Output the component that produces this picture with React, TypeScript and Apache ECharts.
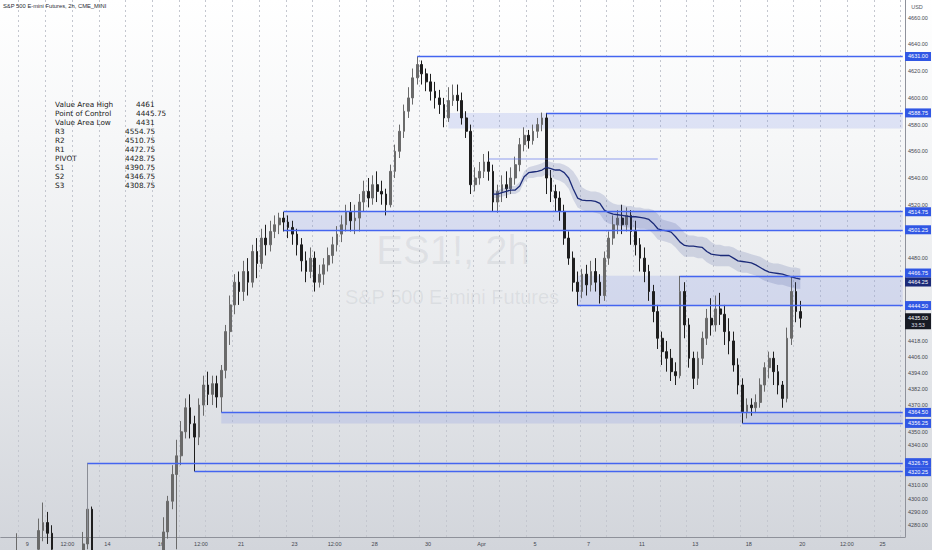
import React, { useEffect, useRef } from "react";
import * as echarts from "echarts";

// ---------- data ----------
const SLOT_COUNT = 203; // 6 slots per trading day, incl. future space

const xTickLabels: [number, string][] = [
  [6, "9"], [15, "12:00"], [24, "14"], [36, "16"], [45, "12:00"], [54, "21"],
  [66, "23"], [75, "12:00"], [84, "28"], [96, "30"], [108, "Apr"], [120, "5"],
  [132, "7"], [144, "11"], [156, "13"], [168, "18"], [180, "20"], [190, "12:00"], [198, "25"],
];

// [open, close, low, high]
const candles: number[][] = [
  [4190, 4200, 4180, 4215], [4200, 4185, 4175, 4210], [4185, 4230, 4180, 4245], [4230, 4255, 4225, 4274], [4255, 4210, 4200, 4262], [4210, 4180, 4170, 4220],
  [4180, 4215, 4175, 4225], [4215, 4262, 4210, 4268], [4262, 4276, 4255, 4285], [4276, 4282, 4268, 4297], [4282, 4274, 4266, 4290], [4274, 4262, 4255, 4280],
  [4262, 4235, 4225, 4266], [4235, 4205, 4195, 4240], [4205, 4222, 4198, 4230], [4222, 4248, 4215, 4258], [4248, 4238, 4230, 4262], [4238, 4255, 4232, 4264],
  [4255, 4266, 4248, 4275], [4266, 4292, 4262, 4296], [4292, 4228, 4220, 4294], [4228, 4205, 4196, 4235], [4205, 4182, 4175, 4212], [4182, 4195, 4178, 4202],
  [4195, 4222, 4190, 4230], [4222, 4200, 4192, 4232], [4200, 4172, 4165, 4208], [4172, 4150, 4140, 4180], [4150, 4162, 4138, 4170], [4162, 4180, 4155, 4188],
  [4180, 4195, 4172, 4205], [4195, 4212, 4188, 4220], [4212, 4230, 4205, 4238], [4230, 4245, 4222, 4252], [4245, 4252, 4238, 4262], [4252, 4258, 4245, 4266],
  [4258, 4275, 4250, 4286], [4275, 4298, 4270, 4302], [4298, 4318, 4292, 4325], [4318, 4332, 4262, 4344], [4332, 4350, 4325, 4358], [4350, 4368, 4345, 4375],
  [4368, 4356, 4345, 4378], [4356, 4346, 4320.25, 4362], [4346, 4370, 4340, 4375], [4370, 4385, 4362, 4392], [4385, 4378, 4370, 4395], [4378, 4386, 4370, 4392],
  [4386, 4376, 4368, 4392], [4376, 4396, 4364.5, 4400], [4396, 4425, 4390, 4430], [4425, 4445, 4415, 4452], [4445, 4462, 4438, 4468], [4462, 4455, 4445, 4470],
  [4455, 4470, 4448, 4478], [4470, 4462, 4452, 4480], [4462, 4485, 4458, 4490], [4485, 4476, 4465, 4495], [4476, 4495, 4472, 4502], [4495, 4490, 4482, 4505],
  [4490, 4500, 4485, 4508], [4500, 4505, 4495, 4512], [4505, 4510, 4498, 4514], [4510, 4507, 4500, 4514.75], [4507, 4503, 4495, 4512], [4503, 4498, 4490, 4508],
  [4498, 4490, 4482, 4502], [4490, 4478, 4470, 4495], [4478, 4470, 4462, 4485], [4470, 4480, 4465, 4488], [4480, 4462, 4455, 4485], [4462, 4468, 4458, 4475],
  [4468, 4475, 4460, 4480], [4475, 4482, 4470, 4488], [4482, 4490, 4476, 4496], [4490, 4498, 4485, 4504], [4498, 4505, 4492, 4512], [4505, 4515, 4500, 4520],
  [4515, 4508, 4500, 4522], [4508, 4510, 4498, 4520], [4510, 4522, 4500, 4528], [4522, 4530, 4515, 4538], [4530, 4525, 4518, 4540], [4525, 4535, 4520, 4542],
  [4535, 4530, 4522, 4545], [4530, 4528, 4520, 4538], [4528, 4520, 4512, 4532], [4520, 4545, 4518, 4550], [4545, 4560, 4540, 4565], [4560, 4575, 4555, 4580],
  [4575, 4590, 4570, 4595], [4590, 4600, 4585, 4608], [4600, 4615, 4595, 4622], [4615, 4625, 4610, 4631], [4625, 4618, 4610, 4628], [4618, 4612, 4605, 4622],
  [4612, 4605, 4598, 4618], [4605, 4600, 4592, 4612], [4600, 4595, 4588, 4606], [4595, 4585, 4578, 4600], [4585, 4598, 4582, 4608], [4598, 4602, 4594, 4610],
  [4602, 4598, 4590, 4610], [4598, 4585, 4580, 4604], [4585, 4575, 4570, 4590], [4575, 4535, 4528, 4580], [4535, 4540, 4530, 4548], [4540, 4545, 4535, 4552],
  [4545, 4552, 4540, 4558], [4552, 4545, 4538, 4560], [4545, 4522, 4515, 4550], [4522, 4530, 4514, 4535], [4530, 4535, 4522, 4542], [4535, 4532, 4525, 4545],
  [4532, 4540, 4528, 4548], [4540, 4550, 4535, 4556], [4550, 4565, 4545, 4570], [4565, 4572, 4560, 4578], [4572, 4568, 4562, 4576], [4568, 4575, 4565, 4580],
  [4575, 4580, 4570, 4585], [4580, 4585, 4575, 4589], [4585, 4540, 4528, 4588.75], [4540, 4530, 4522, 4546], [4530, 4525, 4515, 4535], [4525, 4515, 4508, 4530],
  [4515, 4495, 4490, 4520], [4495, 4480, 4475, 4500], [4480, 4462, 4455, 4485], [4462, 4455, 4444.5, 4470], [4455, 4468, 4450, 4472], [4468, 4460, 4452, 4475],
  [4460, 4470, 4455, 4478], [4470, 4462, 4455, 4480], [4462, 4452, 4446, 4468], [4452, 4480, 4448, 4485], [4480, 4495, 4475, 4500], [4495, 4505, 4490, 4512],
  [4505, 4510, 4498, 4516], [4510, 4505, 4498, 4520], [4505, 4512, 4500, 4518], [4512, 4500, 4490, 4516], [4500, 4490, 4482, 4508], [4490, 4480, 4470, 4495],
  [4480, 4470, 4462, 4488], [4470, 4455, 4448, 4475], [4455, 4440, 4432, 4460], [4440, 4420, 4412, 4445], [4420, 4410, 4400, 4425], [4410, 4405, 4395, 4418],
  [4405, 4395, 4388, 4412], [4395, 4392, 4385, 4402], [4392, 4455, 4390, 4466.75], [4455, 4430, 4420, 4462], [4430, 4405, 4398, 4435], [4405, 4390, 4382, 4410],
  [4390, 4405, 4385, 4410], [4405, 4420, 4400, 4425], [4420, 4435, 4415, 4442], [4435, 4430, 4422, 4450], [4430, 4442, 4425, 4452], [4442, 4438, 4430, 4454],
  [4438, 4425, 4415, 4445], [4425, 4418, 4408, 4435], [4418, 4400, 4395, 4425], [4400, 4385, 4378, 4405], [4385, 4365, 4356.25, 4390], [4365, 4370, 4360, 4375],
  [4370, 4368, 4362, 4375], [4368, 4372, 4364, 4378], [4372, 4385, 4368, 4390], [4385, 4398, 4380, 4402], [4398, 4405, 4390, 4410], [4405, 4395, 4385, 4410],
  [4395, 4385, 4378, 4400], [4385, 4375, 4368, 4388], [4375, 4420, 4372, 4428], [4420, 4455, 4415, 4466], [4455, 4440, 4432, 4462], [4440, 4435, 4428, 4448],
];

const maStart = 110;
const maLine = [
  4528, 4528, 4529, 4530, 4531, 4531, 4534, 4541, 4544, 4544.5,
  4545, 4546, 4548, 4547, 4546, 4546, 4544, 4540, 4532, 4525,
  4523.5, 4523, 4523, 4522.5, 4521, 4516, 4514, 4513, 4512.5, 4512,
  4511.5, 4511, 4511, 4510.5, 4510, 4509, 4506, 4502, 4501, 4500.5,
  4499.5, 4496, 4492, 4489.5, 4489, 4489, 4488.5, 4488, 4485, 4483,
  4482.5, 4482, 4482, 4482, 4480, 4478, 4477.5, 4477, 4476.5, 4475,
  4473, 4471, 4469.5, 4469, 4468.5, 4468, 4467, 4466, 4465, 4464.25,
];
const maUpper = [
  4531, 4531, 4532, 4533, 4534, 4534, 4537,
  4545, 4548, 4549, 4550, 4551, 4553, 4552, 4551, 4551,
  4550, 4548, 4545, 4540, 4533, 4531, 4530, 4530, 4529, 4527,
  4523, 4521, 4520, 4520, 4519, 4519, 4518, 4518, 4517, 4517,
  4516, 4513, 4509, 4508, 4507, 4506, 4503, 4499, 4497, 4497,
  4496, 4496, 4495, 4492, 4490, 4490, 4489, 4489, 4488, 4486,
  4485, 4484, 4483, 4482, 4481, 4479, 4477, 4476, 4476, 4475,
  4474, 4473, 4473, 4472,
];
const maLower = [
  4525, 4525, 4526, 4527, 4528, 4528, 4530,
  4537, 4540, 4540, 4541, 4541, 4543, 4541, 4539, 4538,
  4536, 4532, 4524, 4518, 4516, 4515, 4515, 4514, 4513, 4508,
  4506, 4505, 4504, 4504, 4503, 4503, 4503, 4502, 4502, 4501,
  4498, 4494, 4493, 4492, 4491, 4488, 4484, 4481, 4481, 4481,
  4480, 4480, 4477, 4475, 4474, 4474, 4474, 4474, 4472, 4470,
  4469, 4469, 4468, 4467, 4465, 4463, 4462, 4461, 4460, 4460,
  4459, 4458, 4457, 4457,
];

const yTickValues = [4660, 4640, 4620, 4600, 4580, 4560, 4540, 4520, 4480, 4418, 4406, 4394, 4382, 4370, 4350, 4340, 4310, 4300, 4290, 4280];

// [price, start slot]
const levelLines: [number, number][] = [
  [4631, 93], [4588.75, 122], [4514.75, 63], [4501.25, 63], [4466.75, 152],
  [4444.5, 129], [4364.5, 49], [4356.25, 166], [4326.75, 19], [4320.25, 43],
];
// [start slot, top price, bottom price]
const levelBands: [number, number, number][] = [
  [100, 4588.75, 4577], [63, 4514.75, 4501.25], [129, 4466.75, 4444.5], [49, 4364.5, 4356.25],
];
const r3Segment: [number, number, number] = [4554.75, 109, 147];
const dropLine: [number, number] = [19, 4326.75];

const levelTags = [4631, 4588.75, 4514.75, 4501.25, 4466.75, 4444.5, 4364.5, 4356.25, 4326.75, 4320.25];
const maLastTag = 4464.25;
const lastPrice = 4435;
const countdown = "33:53";

const tableLabels = ["Value Area High", "Point of Control", "Value Area Low", "R3", "R2", "R1", "PIVOT", "S1", "S2", "S3"];
const tableValues = ["4461", "4445.75", "4431", "4554.75", "4510.75", "4472.75", "4428.75", "4390.75", "4346.75", "4308.75"];

// ---------- layout / style ----------
const Y_MIN = 4271.2;
const Y_MAX = 4673.3;
const GRID_RIGHT = 27;
const AXIS_X = 932 - GRID_RIGHT;
const BLUE = "#3157e4";
const NAVY = "#1b2a78";
const LEVEL = "#4465f0";
const FONT = "Liberation Sans";

export default function App() {
  const ref = useRef<HTMLDivElement>(null);

  useEffect(() => {
    if (!ref.current) return;
    const chart = echarts.init(ref.current, undefined, { renderer: "svg" });

    const categories = Array.from({ length: SLOT_COUNT }, (_, i) => {
      const f = xTickLabels.find((t) => t[0] === i);
      return f ? f[1] : "";
    });
    const pad = (start: number, arr: number[]) =>
      Array.from({ length: SLOT_COUNT }, (_, i) => (i >= start && i < start + arr.length ? arr[i - start] : null));
    const lastSlot = SLOT_COUNT - 1;
    const empty = pad(0, []);

    const markerSeries = (color: string, width: number, data: any[]) => ({
      type: "line",
      data: empty,
      silent: true,
      symbol: "none",
      color,
      markLine: {
        silent: true,
        symbol: ["none", "none"],
        label: { show: false },
        emphasis: { disabled: true },
        lineStyle: { color, width, type: "solid", opacity: 1 },
        data,
      },
    });

    const option: any = {
      animation: false,
      textStyle: { fontFamily: FONT },
      grid: { left: 0, right: GRID_RIGHT, top: 0, bottom: 13 },
      xAxis: {
        type: "category",
        data: categories,
        boundaryGap: true,
        axisLine: { lineStyle: { color: "#8e919a" } },
        axisTick: { show: false },
        axisLabel: { interval: 0, fontSize: 5.5, color: "#44474f", margin: 4, padding: [0, 5, 0, 0] },
        splitLine: {
          show: true,
          interval: (i: number) => i % 6 === 4,
          lineStyle: { color: "#c4c7cf", type: [2, 3], width: 1 },
        },
      },
      yAxis: {
        type: "value",
        position: "right",
        min: Y_MIN,
        max: Y_MAX,
        scale: true,
        axisLine: { show: true, lineStyle: { color: "#8e919a" } },
        axisTick: { show: false },
        splitLine: { show: false },
        axisLabel: {
          customValues: yTickValues,
          formatter: (v: number) => v.toFixed(2),
          fontSize: 5.5,
          color: "#44474f",
          margin: 3,
        },
      },
      series: [
        {
          type: "line",
          data: empty,
          silent: true,
          symbol: "none",
          markArea: {
            silent: true,
            itemStyle: { color: "rgba(105,125,230,0.18)" },
            data: levelBands.map(([s, top, bot]) => [{ coord: [s, top] }, { coord: [lastSlot, bot] }]),
          },
        },
        {
          type: "line",
          stack: "band",
          data: pad(maStart, maLower),
          symbol: "none",
          silent: true,
          lineStyle: { opacity: 0 },
        },
        {
          type: "line",
          stack: "band",
          data: pad(maStart, maUpper.map((u, i) => u - maLower[i])),
          symbol: "none",
          silent: true,
          lineStyle: { opacity: 0 },
          areaStyle: { color: "rgba(62,78,150,0.26)" },
        },
        markerSeries("#8a8d95", 1, [[{ coord: [dropLine[0], dropLine[1]] }, { coord: [dropLine[0], Y_MIN] }]]),
        {
          type: "candlestick",
          data: candles,
          clip: true,
          barMaxWidth: 2.4,
          silent: true,
          itemStyle: {
            color: "#6a6a6a",
            color0: "#1e1e1e",
            borderColor: "#6a6a6a",
            borderColor0: "#1e1e1e",
            borderWidth: 1,
          },
        },
        {
          type: "line",
          data: pad(maStart, maLine),
          symbol: "none",
          silent: true,
          lineStyle: { color: NAVY, width: 1.3 },
        },
        markerSeries("rgba(95,115,235,0.45)", 1.6, [[{ coord: [r3Segment[1], r3Segment[0]] }, { coord: [r3Segment[2], r3Segment[0]] }]]),
        markerSeries(LEVEL, 1.4, levelLines.map(([p, s]) => [{ coord: [s, p] }, { coord: [lastSlot, p] }])),
      ],
    };
    chart.setOption(option);

    const toY = (p: number) => chart.convertToPixel({ yAxisIndex: 0 }, p) as number;

    const tags = levelTags.map((p) => ({ p, y: toY(p), fill: BLUE }));
    tags.push({ p: maLastTag, y: toY(maLastTag), fill: NAVY });
    tags.sort((a, b) => a.y - b.y);
    for (let k = 0; k < 3; k++) {
      for (let i = 1; i < tags.length; i++) {
        if (tags[i].y - tags[i - 1].y < 9) {
          const mid = (tags[i].y + tags[i - 1].y) / 2;
          tags[i - 1].y = mid - 4.5;
          tags[i].y = mid + 4.5;
        }
      }
    }

    const txt = (x: number, y: number, text: string, extra: any = {}) => ({
      type: "text",
      x,
      y,
      silent: true,
      z: extra.z ?? 50,
      style: {
        text,
        fill: extra.fill ?? "#222",
        fontSize: extra.fontSize ?? 7,
        fontFamily: extra.fontFamily ?? FONT,
        fontWeight: extra.fontWeight ?? "normal",
        align: extra.align ?? "left",
        textAlign: extra.align ?? "left",
        verticalAlign: "middle",
        textVerticalAlign: "middle",
      },
    });

    const graphics: any[] = [];
    // watermark
    graphics.push(txt(453, 250, "ES1!, 2h", { fill: "rgba(120,126,140,0.12)", fontSize: 40, align: "center", z: 0 }));
    graphics.push(txt(452, 297, "S&P 500 E-mini Futures", { fill: "rgba(120,126,140,0.12)", fontSize: 20, align: "center", z: 0 }));
    // title
    graphics.push(txt(3, 6, "S&P 500 E-mini Futures, 2h, CME_MINI", { fontSize: 5.8, fill: "#2a2d35" }));
    graphics.push(txt(917, 7, "USD", { fontSize: 5.5, fill: "#55585f", align: "center" }));
    // table
    tableLabels.forEach((label, i) => {
      const y = 104 + i * 9;
      graphics.push(txt(55, y, label, { fontFamily: "DejaVu Sans", fontSize: 7.3, fill: "#1a1a1a" }));
      graphics.push(txt(i < 3 ? 136 : 125, y, tableValues[i], { fontFamily: "DejaVu Sans", fontSize: 7.3, fill: "#1a1a1a" }));
    });
    // price tags
    tags.forEach((t) => {
      graphics.push({
        type: "rect",
        silent: true,
        z: 60,
        shape: { x: AXIS_X, y: t.y - 4.5, width: 932 - AXIS_X - 1, height: 9 },
        style: { fill: t.fill },
      });
      graphics.push(txt(AXIS_X + 13, t.y, t.p.toFixed(2), { fill: "#ffffff", fontSize: 5.5, align: "center", z: 61 }));
    });
    const ly = toY(lastPrice);
    graphics.push({
      type: "rect",
      silent: true,
      z: 60,
      shape: { x: AXIS_X, y: ly - 5, width: 932 - AXIS_X - 1, height: 16 },
      style: { fill: "#181b24" },
    });
    graphics.push(txt(AXIS_X + 13, ly - 0.5, lastPrice.toFixed(2), { fill: "#ffffff", fontSize: 5.5, align: "center", z: 61 }));
    graphics.push(txt(AXIS_X + 13, ly + 6.5, countdown, { fill: "#d8dae0", fontSize: 5.5, align: "center", z: 61 }));

    chart.setOption({ graphic: { elements: graphics } });

    return () => chart.dispose();
  }, []);

  return (
    <div
      ref={ref}
      style={{
        position: "absolute",
        left: 0,
        top: 0,
        width: 932,
        height: 550,
        background: "linear-gradient(180deg, #ffffff 0%, #f6f7f8 25%, #e7e9ec 60%, #d2d5db 100%)",
      }}
    />
  );
}
